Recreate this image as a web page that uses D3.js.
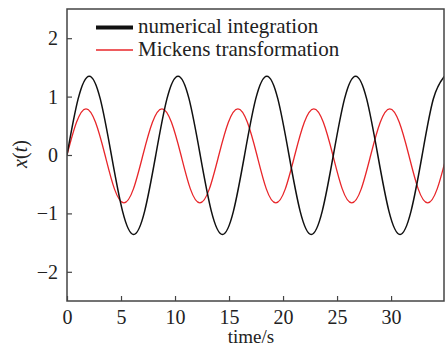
<!DOCTYPE html>
<html>
<head>
<meta charset="utf-8">
<script src="https://cdn.jsdelivr.net/npm/d3@7"></script>
<style>
  html, body { margin: 0; padding: 0; background: #fff; }
  svg { display: block; }
  text { font-family: "Liberation Serif", "Times New Roman", serif; fill: #222; }
</style>
</head>
<body>
<svg id="chart" width="445" height="349"></svg>
<script>
// Numerical integration solution x(t)
const numTime = [0, 1.03, 2.06, 3.08, 4.11, 5.14, 6.17, 7.19, 8.22, 9.25, 10.28, 11.30, 12.33, 13.36, 14.39, 15.41, 16.44, 17.47, 18.50, 19.52, 20.55, 21.58, 22.61, 23.63, 24.66, 25.69, 26.72, 27.74, 28.77, 29.80, 30.83, 31.85, 32.88, 33.91, 34.94];
const numValue = [0, 0.96, 1.35, 0.96, 0, -0.96, -1.36, -0.96, 0, 0.96, 1.35, 0.96, 0, -0.96, -1.36, -0.96, 0, 0.96, 1.35, 0.96, 0, -0.96, -1.36, -0.96, 0, 0.96, 1.35, 0.96, 0, -0.96, -1.36, -0.96, 0, 0.96, 1.35];

// Mickens transformation solution x(t)
const mickTime = [0, 0.88, 1.76, 2.64, 3.52, 4.39, 5.27, 6.15, 7.03, 7.91, 8.79, 9.67, 10.55, 11.42, 12.30, 13.18, 14.06, 14.94, 15.82, 16.70, 17.58, 18.45, 19.33, 20.21, 21.09, 21.97, 22.85, 23.73, 24.61, 25.48, 26.36, 27.24, 28.12, 29.00, 29.88, 30.76, 31.64, 32.51, 33.39, 34.27, 35.15];
const mickValue = [0, 0.56, 0.79, 0.56, 0, -0.58, -0.82, -0.58, 0, 0.56, 0.79, 0.56, 0, -0.58, -0.82, -0.58, 0, 0.56, 0.79, 0.56, 0, -0.58, -0.82, -0.58, 0, 0.56, 0.79, 0.56, 0, -0.58, -0.82, -0.58, 0, 0.56, 0.79, 0.56, 0, -0.58, -0.82, -0.58, 0];

const xTicks = [0, 5, 10, 15, 20, 25, 30];
const yTicks = [-2, -1, 0, 1, 2];
const legendLabels = ["numerical integration", "Mickens transformation"];

const svg = d3.select("#chart");
const plotLeft = 67, plotRight = 444, plotTop = 9, plotBottom = 301;
const serif = "'Liberation Serif', 'Times New Roman', serif";

const x = d3.scaleLinear().domain([0, 34.9]).range([plotLeft, plotRight]);
const y = d3.scaleLinear().domain([-2.5, 2.5]).range([plotBottom, plotTop]);

svg.append("defs").append("clipPath").attr("id", "plotClip")
  .append("rect").attr("x", plotLeft).attr("y", plotTop)
  .attr("width", plotRight - plotLeft).attr("height", plotBottom - plotTop);

const line = d3.line().x(d => x(d[0])).y(d => y(d[1])).curve(d3.curveNatural);

const numPts = numTime.map((t, i) => [t, numValue[i]]);
const mickPts = mickTime.map((t, i) => [t, mickValue[i]]);

const plot = svg.append("g").attr("clip-path", "url(#plotClip)");
plot.append("path").datum(mickPts).attr("d", line)
  .attr("fill", "none").attr("stroke", "#e8262a").attr("stroke-width", 1.3);
plot.append("path").datum(numPts).attr("d", line)
  .attr("fill", "none").attr("stroke", "#111").attr("stroke-width", 1.5);

// Axes with inward ticks
const axisColor = "#444";
const fmt = d3.format("d");
const xAxis = svg.append("g").attr("transform", `translate(0,${plotBottom})`)
  .call(d3.axisBottom(x).tickValues(xTicks).tickFormat(fmt).tickSizeInner(-5).tickSizeOuter(0).tickPadding(9));
const yAxis = svg.append("g").attr("transform", `translate(${plotLeft},0)`)
  .call(d3.axisLeft(y).tickValues(yTicks).tickFormat(fmt).tickSizeInner(-5).tickSizeOuter(0).tickPadding(9));

[xAxis, yAxis].forEach(g => {
  g.attr("font-family", serif).attr("font-size", 20);
  g.select(".domain").remove();
  g.selectAll(".tick line").attr("stroke", axisColor).attr("stroke-width", 1.2);
  g.selectAll(".tick text").attr("fill", "#222").style("font-family", serif);
});

// Frame
svg.append("rect").attr("x", plotLeft).attr("y", plotTop)
  .attr("width", plotRight - plotLeft).attr("height", plotBottom - plotTop)
  .attr("fill", "none").attr("stroke", axisColor).attr("stroke-width", 1.5);

// Axis titles
svg.append("text").attr("x", 251).attr("y", 343)
  .attr("text-anchor", "middle").attr("font-size", 19)
  .style("font-family", serif).text("time/s");

const yl = svg.append("text").attr("transform", "translate(27,154) rotate(-90)")
  .attr("text-anchor", "middle").attr("font-size", 20).style("font-family", serif);
yl.append("tspan").attr("font-style", "italic").text("x");
yl.append("tspan").text("(");
yl.append("tspan").attr("font-style", "italic").text("t");
yl.append("tspan").text(")");

// Legend
const legend = svg.append("g");
const legendStyle = [
  { color: "#111", width: 4, y: 27.5 },
  { color: "#e8262a", width: 1.5, y: 50 }
];
legendLabels.forEach((label, i) => {
  const s = legendStyle[i];
  legend.append("line").attr("x1", 96).attr("x2", 133).attr("y1", s.y).attr("y2", s.y)
    .attr("stroke", s.color).attr("stroke-width", s.width);
  legend.append("text").attr("x", 138).attr("y", s.y + 5.5).attr("font-size", 21)
    .style("font-family", serif).text(label);
});
</script>
</body>
</html>
